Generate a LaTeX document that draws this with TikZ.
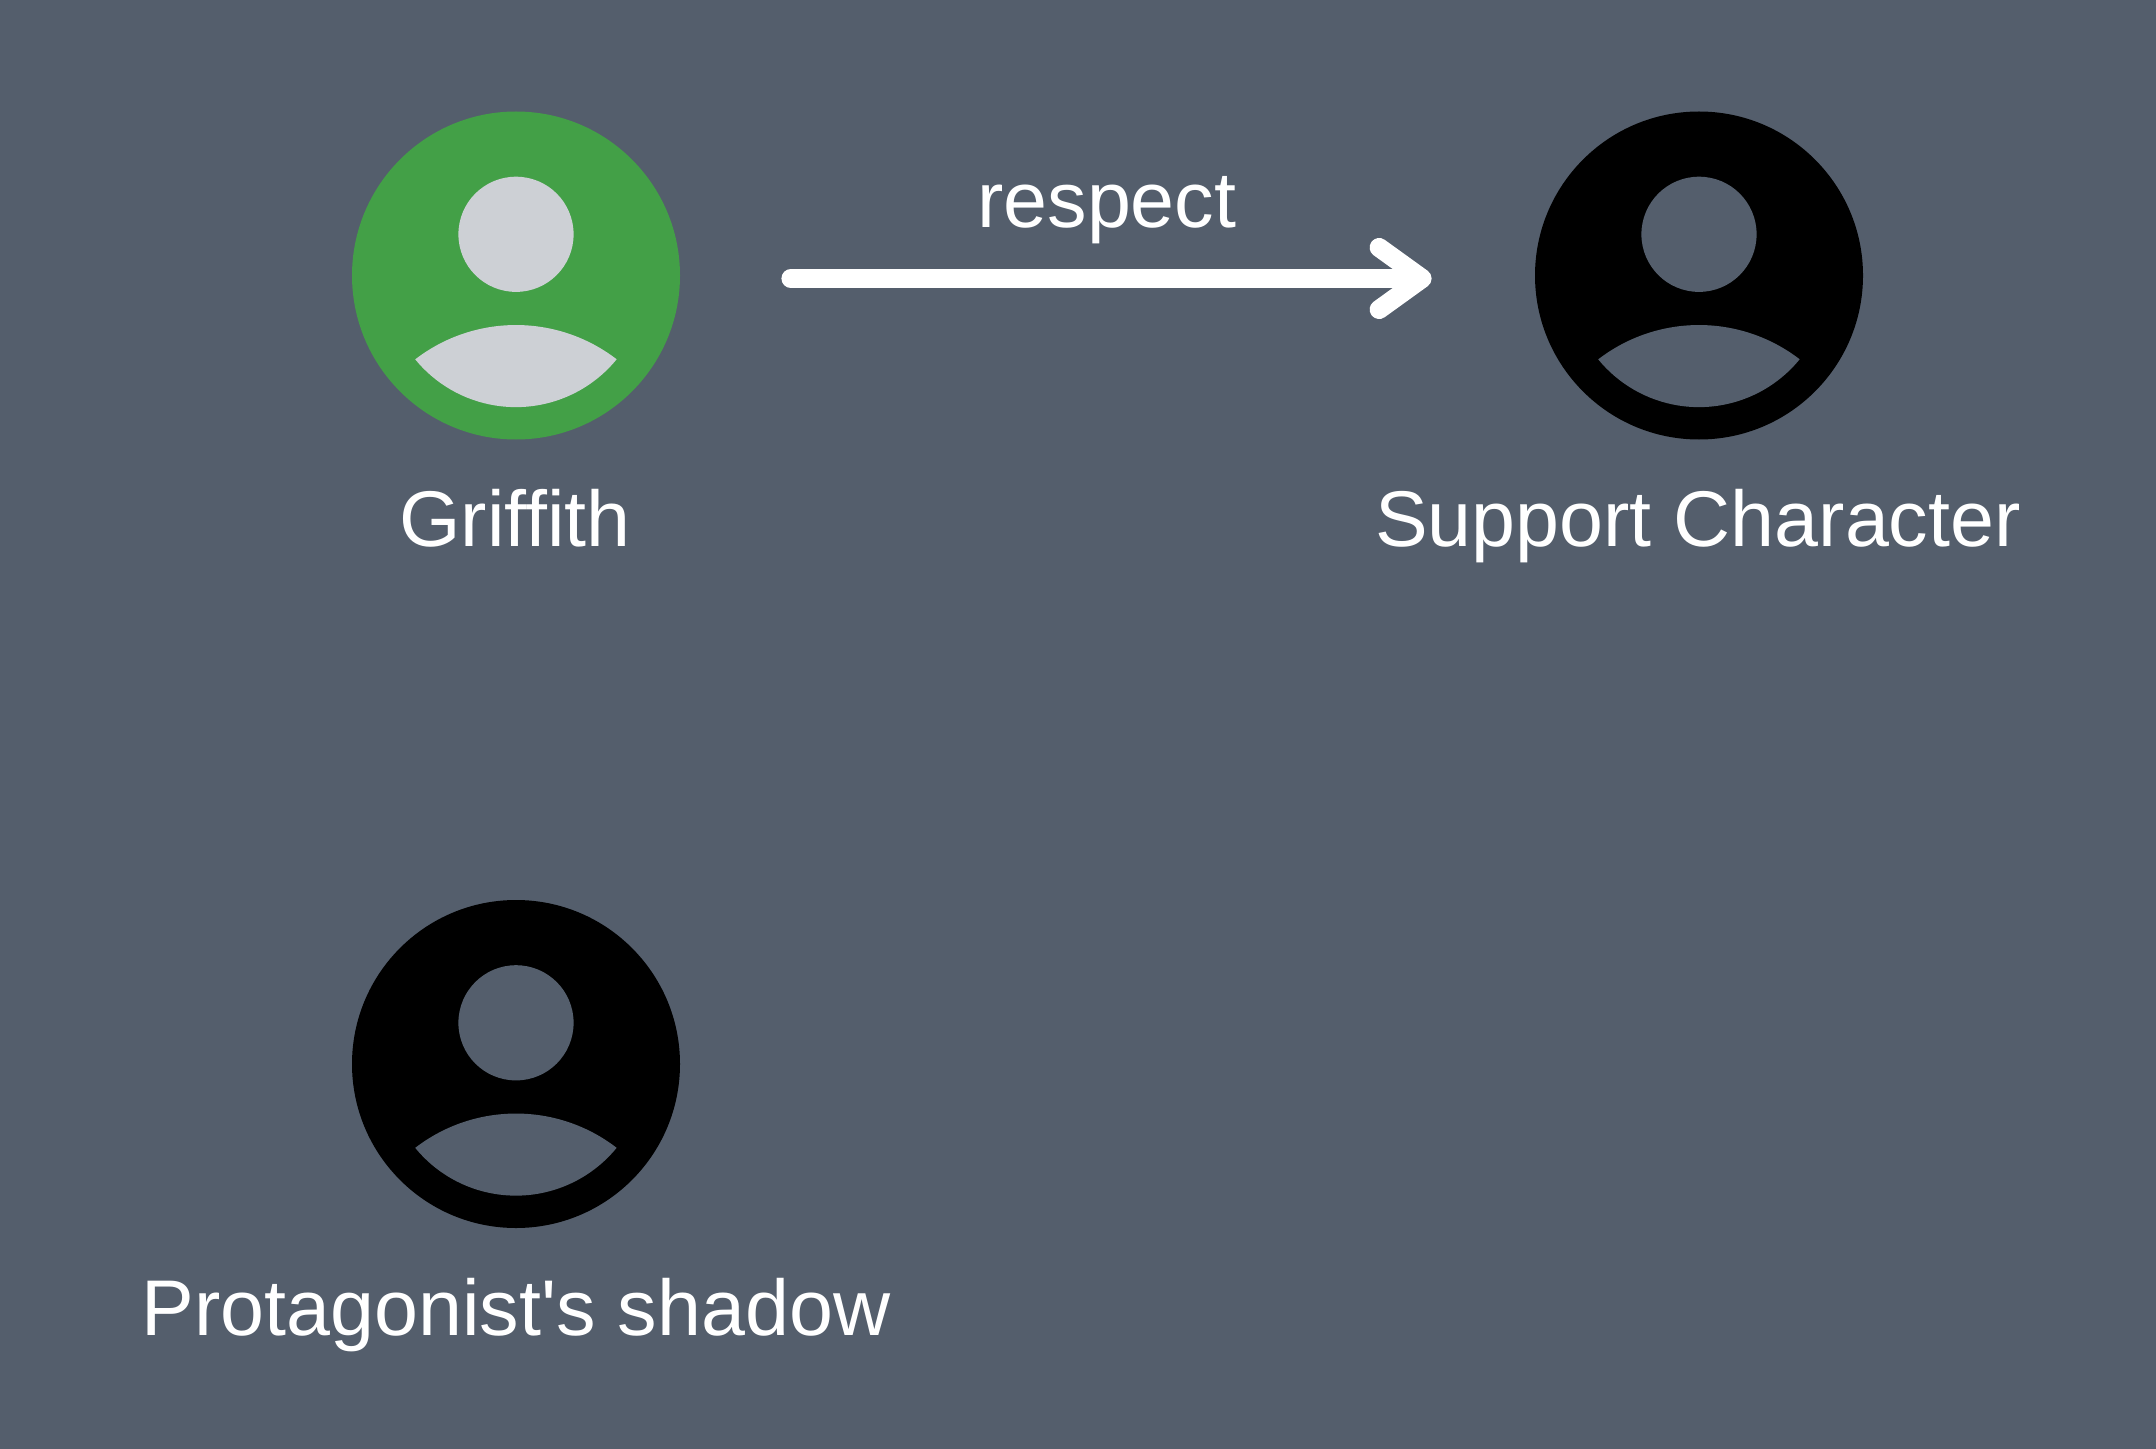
\documentclass[tikz,border=0pt]{standalone}
\usepackage{fontspec}
\setmainfont{Liberation Sans}
\usetikzlibrary{arrows.meta}
\definecolor{slatebg}{RGB}{84,94,108}
\definecolor{leafgreen}{RGB}{67,160,71}
\definecolor{palegray}{RGB}{205,208,213}
\tikzset{
  disc/.style={circle, inner sep=0pt, minimum size=164pt, fill=#1},
  headdot/.style={circle, inner sep=0pt, minimum size=57.6pt, fill=#1},
  caption/.style={text=white, inner sep=0pt, font=\fontsize{39.5}{39.5}\selectfont},
  arrowstyle/.style={-{Straight Barb[length=21.5pt, width=31pt, round]}, white, line width=9.5pt, line cap=round}
}
\newcommand{\bodyshape}[2]{%
  \fill[#2] ([xshift=-50.35pt, yshift=-41.9pt]#1.center)
    arc[start angle=127.6, end angle=52.4, radius=82.5pt]
    arc[start angle=-39.2, end angle=-140.8, radius=65pt] -- cycle;}

\begin{document}
\begin{tikzpicture}[x=0.5pt, y=-0.5pt]
  \fill[slatebg] (0,0) rectangle (2156,1449);
  \useasboundingbox (0,0) rectangle (2156,1449);
  % people
  \node[disc=leafgreen] (griffith) at (516,275.5) {};
  \node[disc=black] (support) at (1699,275.5) {};
  \node[disc=black] (shadow) at (516,1064) {};
  \node[headdot=palegray] (griffithhead) at (516,234.3) {};
  \node[headdot=slatebg] (supporthead) at (1699,234.3) {};
  \node[headdot=slatebg] (shadowhead) at (516,1022.8) {};
  \bodyshape{griffith}{palegray}
  \bodyshape{support}{slatebg}
  \bodyshape{shadow}{slatebg}
  % labels
  \node[caption, anchor=base] (griffithname) at (515,546) {Griffith};
  \node[caption, anchor=base] (supportname) at (1698,546) {Support Character};
  \node[caption, anchor=base] (shadowname) at (516,1335) {Protagonist\textquotesingle s shadow};
  % relation
  \draw[arrowstyle] ([xshift=55.25pt, yshift=-1.5pt]griffith.east) -- node[caption, anchor=base, xshift=-2.2pt, yshift=25.25pt] (respect) {respect} ([xshift=-51.5pt, yshift=-1.5pt]support.west);
\end{tikzpicture}
\end{document}
